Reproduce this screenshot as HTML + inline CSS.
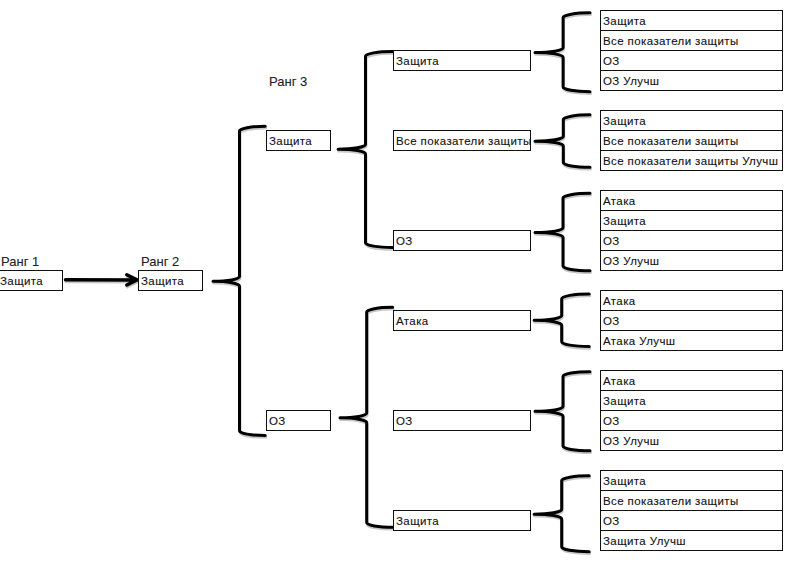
<!DOCTYPE html>
<html><head><meta charset="utf-8"><style>
html,body{margin:0;padding:0;background:#fff;}
body{width:798px;height:567px;position:relative;overflow:hidden;font-family:"Liberation Sans",sans-serif;font-size:11.5px;color:#111;}
.b{position:absolute;box-sizing:border-box;border:1px solid #111;background:#fff;line-height:21px;letter-spacing:0.4px;-webkit-text-stroke:0.1px #111;white-space:nowrap;overflow:hidden;}
.l{position:absolute;line-height:14px;white-space:nowrap;color:#222;font-size:13px;-webkit-text-stroke:0.1px #222;}
svg{position:absolute;left:0;top:0;}
</style></head><body>
<svg width="798" height="567" viewBox="0 0 798 567">
<g fill="none" stroke="#c8c8c8" stroke-width="3" stroke-linecap="round" stroke-linejoin="round" transform="translate(0.5,1.8)"><path d="M265.2,126.3 A25.7,4.7 0 0 0 239.5,131 L239.5,276.6 A26.5,4.7 0 0 1 213,281.3 A26.5,4.7 0 0 1 239.5,286 L239.5,430.8 A25.7,4.7 0 0 0 265.2,435.5"/><path d="M392.7,51.5 A27.2,4.7 0 0 0 365.5,56.2 L365.5,144.5 A27.4,4.7 0 0 1 338.1,149.2 A27.4,4.7 0 0 1 365.5,153.9 L365.5,242.8 A27.2,4.7 0 0 0 392.7,247.5"/><path d="M392.7,307.3 A26,4.7 0 0 0 366.7,312 L366.7,413.1 A26.7,4.7 0 0 1 340,417.8 A26.7,4.7 0 0 1 366.7,422.5 L366.7,522.6 A26,4.7 0 0 0 392.7,527.3"/><path d="M590,12.8 A26.9,4.7 0 0 0 563.1,17.5 L563.1,47.8 A28.1,4.7 0 0 1 535,52.5 A28.1,4.7 0 0 1 563.1,57.2 L563.1,87 A26.9,4.7 0 0 0 590,91.7"/><path d="M590,114.8 A26.7,4.7 0 0 0 563.3,119.5 L563.3,136.5 A28.3,4.7 0 0 1 535,141.2 A28.3,4.7 0 0 1 563.3,145.9 L563.3,162.6 A26.7,4.7 0 0 0 590,167.3"/><path d="M590,193.3 A27,4.7 0 0 0 563,198 L563,227.8 A28,4.7 0 0 1 535,232.5 A28,4.7 0 0 1 563,237.2 L563,266.1 A27,4.7 0 0 0 590,270.8"/><path d="M589.2,294 A27.5,4.7 0 0 0 561.7,298.7 L561.7,315.6 A27.6,4.7 0 0 1 534.1,320.3 A27.6,4.7 0 0 1 561.7,325 L561.7,341.8 A27.5,4.7 0 0 0 589.2,346.5"/><path d="M590,371.7 A27,4.7 0 0 0 563,376.4 L563,406.6 A28,4.7 0 0 1 535,411.3 A28,4.7 0 0 1 563,416 L563,446.1 A27,4.7 0 0 0 590,450.8"/><path d="M589.2,475.8 A27.5,4.7 0 0 0 561.7,480.5 L561.7,509.5 A27.6,4.7 0 0 1 534.1,514.2 A27.6,4.7 0 0 1 561.7,518.9 L561.7,547 A27.5,4.7 0 0 0 589.2,551.7"/><path d="M65.5,279.8 L136,279.9 M126.8,274.8 L137,279.9 L126.8,285" stroke-width="3.5"/></g>
<g fill="none" stroke="#000" stroke-width="3" stroke-linecap="round" stroke-linejoin="round"><path d="M265.2,126.3 A25.7,4.7 0 0 0 239.5,131 L239.5,276.6 A26.5,4.7 0 0 1 213,281.3 A26.5,4.7 0 0 1 239.5,286 L239.5,430.8 A25.7,4.7 0 0 0 265.2,435.5"/><path d="M392.7,51.5 A27.2,4.7 0 0 0 365.5,56.2 L365.5,144.5 A27.4,4.7 0 0 1 338.1,149.2 A27.4,4.7 0 0 1 365.5,153.9 L365.5,242.8 A27.2,4.7 0 0 0 392.7,247.5"/><path d="M392.7,307.3 A26,4.7 0 0 0 366.7,312 L366.7,413.1 A26.7,4.7 0 0 1 340,417.8 A26.7,4.7 0 0 1 366.7,422.5 L366.7,522.6 A26,4.7 0 0 0 392.7,527.3"/><path d="M590,12.8 A26.9,4.7 0 0 0 563.1,17.5 L563.1,47.8 A28.1,4.7 0 0 1 535,52.5 A28.1,4.7 0 0 1 563.1,57.2 L563.1,87 A26.9,4.7 0 0 0 590,91.7"/><path d="M590,114.8 A26.7,4.7 0 0 0 563.3,119.5 L563.3,136.5 A28.3,4.7 0 0 1 535,141.2 A28.3,4.7 0 0 1 563.3,145.9 L563.3,162.6 A26.7,4.7 0 0 0 590,167.3"/><path d="M590,193.3 A27,4.7 0 0 0 563,198 L563,227.8 A28,4.7 0 0 1 535,232.5 A28,4.7 0 0 1 563,237.2 L563,266.1 A27,4.7 0 0 0 590,270.8"/><path d="M589.2,294 A27.5,4.7 0 0 0 561.7,298.7 L561.7,315.6 A27.6,4.7 0 0 1 534.1,320.3 A27.6,4.7 0 0 1 561.7,325 L561.7,341.8 A27.5,4.7 0 0 0 589.2,346.5"/><path d="M590,371.7 A27,4.7 0 0 0 563,376.4 L563,406.6 A28,4.7 0 0 1 535,411.3 A28,4.7 0 0 1 563,416 L563,446.1 A27,4.7 0 0 0 590,450.8"/><path d="M589.2,475.8 A27.5,4.7 0 0 0 561.7,480.5 L561.7,509.5 A27.6,4.7 0 0 1 534.1,514.2 A27.6,4.7 0 0 1 561.7,518.9 L561.7,547 A27.5,4.7 0 0 0 589.2,551.7"/><path d="M65.5,279.8 L136,279.9 M126.8,274.8 L137,279.9 L126.8,285" stroke-width="3.5"/></g>
</svg>
<div class="l" style="left:1px;top:255px">Ранг 1</div>
<div class="l" style="left:141px;top:255px">Ранг 2</div>
<div class="l" style="left:269px;top:75px">Ранг 3</div>
<div class="b" style="left:-1px;top:270px;width:64px;height:21px;border-left:none;padding-left:1px">Защита</div>
<div class="b" style="left:138px;top:270px;width:65px;height:21px;padding-left:2px">Защита</div>
<div class="b" style="left:266px;top:130px;width:65px;height:21px;padding-left:2px">Защита</div>
<div class="b" style="left:266px;top:410px;width:65px;height:21px;padding-left:2px">ОЗ</div>
<div class="b" style="left:393px;top:50px;width:138px;height:21px;padding-left:2px">Защита</div>
<div class="b" style="left:393px;top:130px;width:138px;height:21px;padding-left:2px">Все показатели защиты</div>
<div class="b" style="left:393px;top:230px;width:138px;height:21px;padding-left:2px">ОЗ</div>
<div class="b" style="left:393px;top:310px;width:138px;height:21px;padding-left:2px">Атака</div>
<div class="b" style="left:393px;top:410px;width:138px;height:21px;padding-left:2px">ОЗ</div>
<div class="b" style="left:393px;top:510px;width:138px;height:21px;padding-left:2px">Защита</div>
<div class="b" style="left:600px;top:10px;width:183px;height:21px;padding-left:2px">Защита</div>
<div class="b" style="left:600px;top:30px;width:183px;height:21px;padding-left:2px">Все показатели защиты</div>
<div class="b" style="left:600px;top:50px;width:183px;height:21px;padding-left:2px">ОЗ</div>
<div class="b" style="left:600px;top:70px;width:183px;height:21px;padding-left:2px">ОЗ Улучш</div>
<div class="b" style="left:600px;top:110px;width:183px;height:21px;padding-left:2px">Защита</div>
<div class="b" style="left:600px;top:130px;width:183px;height:21px;padding-left:2px">Все показатели защиты</div>
<div class="b" style="left:600px;top:150px;width:183px;height:21px;padding-left:2px">Все показатели защиты Улучш</div>
<div class="b" style="left:600px;top:190px;width:183px;height:21px;padding-left:2px">Атака</div>
<div class="b" style="left:600px;top:210px;width:183px;height:21px;padding-left:2px">Защита</div>
<div class="b" style="left:600px;top:230px;width:183px;height:21px;padding-left:2px">ОЗ</div>
<div class="b" style="left:600px;top:250px;width:183px;height:21px;padding-left:2px">ОЗ Улучш</div>
<div class="b" style="left:600px;top:290px;width:183px;height:21px;padding-left:2px">Атака</div>
<div class="b" style="left:600px;top:310px;width:183px;height:21px;padding-left:2px">ОЗ</div>
<div class="b" style="left:600px;top:330px;width:183px;height:21px;padding-left:2px">Атака Улучш</div>
<div class="b" style="left:600px;top:370px;width:183px;height:21px;padding-left:2px">Атака</div>
<div class="b" style="left:600px;top:390px;width:183px;height:21px;padding-left:2px">Защита</div>
<div class="b" style="left:600px;top:410px;width:183px;height:21px;padding-left:2px">ОЗ</div>
<div class="b" style="left:600px;top:430px;width:183px;height:21px;padding-left:2px">ОЗ Улучш</div>
<div class="b" style="left:600px;top:470px;width:183px;height:21px;padding-left:2px">Защита</div>
<div class="b" style="left:600px;top:490px;width:183px;height:21px;padding-left:2px">Все показатели защиты</div>
<div class="b" style="left:600px;top:510px;width:183px;height:21px;padding-left:2px">ОЗ</div>
<div class="b" style="left:600px;top:530px;width:183px;height:21px;padding-left:2px">Защита Улучш</div>
</body></html>
